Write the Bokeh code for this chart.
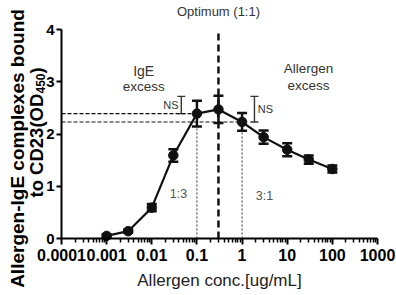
from math import pi
from bokeh.plotting import figure
from bokeh.models import (Range1d, FixedTicker, Label, Whisker, TeeHead,
                          ColumnDataSource, LogAxis, LinearAxis)
from bokeh.embed import file_html
from bokeh.resources import INLINE

# Allergen titration: mean OD450 of allergen-IgE complexes bound to CD23
conc = [0.001, 0.003, 0.01, 0.03, 0.1, 0.3, 1, 3, 10, 30, 100]
od450 = [0.05, 0.14, 0.59, 1.59, 2.39, 2.47, 2.23, 1.94, 1.70, 1.51, 1.33]
err = [0.03, 0.03, 0.07, 0.12, 0.245, 0.26, 0.17, 0.125, 0.125, 0.08, 0.065]

x_ticks = [0.0001, 0.001, 0.01, 0.1, 1.0, 10.0, 100.0, 1000.0]
x_tick_labels = ["0.0001", "0.001", "0.01", "0.1", "1", "10", "100", "1000"]
y_ticks = [0, 1, 2, 3, 4]

# optimum ratio and the 1:3 / 3:1 reference concentrations
optimum_conc = 0.3
ratio_conc = [0.1, 1.0]
ratio_labels = ["1:3", "3:1"]

# "NS" comparison brackets
ns_x = [0.045, 1.88]
ns_low = [2.39, 2.23]
ns_high = [2.72, 2.72]

FONT = "Liberation Sans"
INK = "#111111"
TXT = "#333333"
W, H = 396, 295

# The plot area spans the whole canvas; the axes sit inside it at fixed
# locations (x axis at OD 0, y axis at 0.0001 ug/mL), 45.14 px per decade
# from x = 61 px and 52.25 px per OD unit up from y = 238 px.
AX_X, AX_Y, DEC, UNIT = 61.0, 238.0, 316.0 / 7, 52.25
x_lo = 10 ** (-4 - AX_X / DEC)
x_hi = 10 ** (-4 + (W - AX_X) / DEC)
y_lo = (AX_Y - H) / UNIT
y_hi = AX_Y / UNIT

p = figure(width=W, height=H, x_axis_type="log",
           x_range=Range1d(x_lo, x_hi), y_range=Range1d(y_lo, y_hi),
           x_axis_location=None, y_axis_location=None,
           output_backend="svg", toolbar_location=None, min_border=0)
p.outline_line_color = None
p.grid.visible = False
p.background_fill_color = "white"
p.border_fill_color = "white"

# reference lines through the 0.1 and 1 ug/mL points
ref_y = [od450[conc.index(c)] for c in ratio_conc]
p.segment(x0=[x_ticks[0]] * 2, y0=ref_y, x1=ratio_conc, y1=ref_y,
          line_color=INK, line_width=1.2, line_dash="4 2")
p.segment(x0=ratio_conc, y0=[0, 0], x1=ratio_conc, y1=ref_y,
          line_color="#555555", line_width=1.2, line_dash="2 2")
# optimum (1:1)
p.segment(x0=[optimum_conc], y0=[0], x1=[optimum_conc], y1=[y_ticks[-1]],
          line_color=INK, line_width=2.5, line_dash="7 4")

# NS brackets
ns_src = ColumnDataSource(dict(x=ns_x, lo=ns_low, hi=ns_high))
p.add_layout(Whisker(base="x", lower="lo", upper="hi", source=ns_src,
                     line_color="#333333", line_width=1.4,
                     upper_head=TeeHead(size=8, line_width=1.4, line_color="#333333"),
                     lower_head=TeeHead(size=8, line_width=1.4, line_color="#333333")))

# error bars
src = ColumnDataSource(dict(x=conc, y=od450,
                            lo=[m - e for m, e in zip(od450, err)],
                            hi=[m + e for m, e in zip(od450, err)]))
p.add_layout(Whisker(base="x", lower="lo", upper="hi", source=src,
                     line_color=INK, line_width=2.5, level="glyph",
                     upper_head=TeeHead(size=10, line_width=2.5, line_color=INK),
                     lower_head=TeeHead(size=10, line_width=2.5, line_color=INK)))

p.line("x", "y", source=src, line_color=INK, line_width=2.2)
p.scatter("x", "y", source=src, size=9.5, fill_color=INK, line_color=INK)

# axes
xa = LogAxis(fixed_location=0, bounds=(x_ticks[0], x_ticks[-1]))
xa.ticker = FixedTicker(ticks=x_ticks,
                        minor_ticks=[m * 10.0 ** e for e in range(-4, 3) for m in range(2, 10)])
xa.major_label_overrides = dict(zip(x_ticks, x_tick_labels))
xa.axis_line_width = 2
xa.major_tick_line_width = 2
xa.minor_tick_line_width = 1.5
xa.major_tick_in = 0
xa.major_tick_out = 6
xa.minor_tick_in = 0
xa.minor_tick_out = 4
xa.major_label_text_font = FONT
xa.major_label_text_font_style = "bold"
xa.major_label_text_font_size = "16px"
xa.major_label_text_color = "black"
xa.major_label_standoff = 4
xa.axis_label = "Allergen conc.[ug/mL]"
xa.axis_label_text_font = FONT
xa.axis_label_text_font_style = "normal"
xa.axis_label_text_font_size = "17px"
xa.axis_label_text_color = "#222222"
xa.axis_label_standoff = 7
p.add_layout(xa, "below")

ya = LinearAxis(fixed_location=x_ticks[0], bounds=(y_ticks[0], y_ticks[-1]))
ya.ticker = FixedTicker(ticks=y_ticks, minor_ticks=[])
ya.axis_line_width = 2
ya.major_tick_line_width = 2
ya.major_tick_in = 0
ya.major_tick_out = 5
ya.minor_tick_line_color = None
ya.major_label_text_font = FONT
ya.major_label_text_font_style = "bold"
ya.major_label_text_font_size = "15px"
ya.major_label_text_color = "black"
ya.major_label_standoff = 2
p.add_layout(ya, "left")


def screen_label(text, x, y, size, align="center", angle=0.0, bold=False,
                 baseline="middle", color="black"):
    # x, y in canvas pixels from the top-left corner
    p.add_layout(Label(x=x, y=H - y, x_units="screen", y_units="screen",
                       text=text, angle=angle, text_font=FONT,
                       text_font_style="bold" if bold else "normal",
                       text_font_size=size, text_color=color,
                       text_align=align, text_baseline=baseline))


# y axis title (two rotated lines, with a subscript)
screen_label("Allergen-IgE complexes bound", 17, 148, "19px", angle=pi / 2,
             bold=True, baseline="alphabetic")
screen_label("to CD23(OD", 36, 197, "18.5px", align="left", angle=pi / 2,
             bold=True, baseline="alphabetic")
screen_label("450", 40, 93, "12px", align="left", angle=pi / 2,
             bold=True, baseline="alphabetic")
screen_label(")", 36, 73, "18.5px", align="left", angle=pi / 2,
             bold=True, baseline="alphabetic")

screen_label("Optimum (1:1)", 218, 11, "13px", color=TXT)


# annotations inside the axes
def note(text, x, y, size="13.5px", color=TXT):
    p.add_layout(Label(x=x, y=y, text=text, text_font=FONT,
                       text_font_size=size, text_color=color,
                       text_align="center", text_baseline="middle"))


note("IgE", 0.0066, 3.215, size="14px")
note("excess", 0.0066, 2.91)
note("Allergen", 29.6, 3.25)
note("excess", 29.6, 2.93)
note(ratio_labels[0], 0.039, 0.86, size="12.5px", color="#555555")
note(ratio_labels[1], 3.14, 0.82, size="12.5px", color="#555555")
note("NS", 0.0265, 2.55, size="11px")
note("NS", 3.3, 2.47, size="11px")

open("out.html", "w").write(file_html(p, INLINE))
